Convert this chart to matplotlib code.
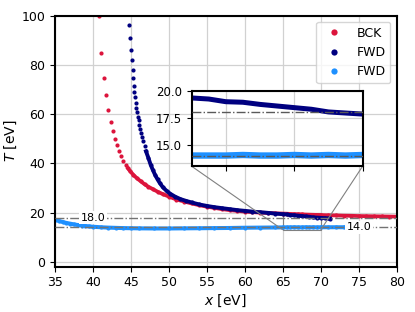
import matplotlib.pyplot as plt
from mpl_toolkits.axes_grid1.inset_locator import mark_inset

# BCK points (sparse head, then dense tail)
bck_x = [40.83, 41.09, 41.45, 41.71, 42.00, 42.33, 42.60, 42.85, 43.10, 43.40,
         43.70, 44.00, 44.30, 44.60, 44.90, 45.3, 45.8, 46.3, 46.8, 47.3,
         47.9, 48.5, 49.2, 50.0, 51.0, 52.0, 53.0, 54.0, 55.0, 56.0,
         57.0, 58.0, 59.0, 60.0, 61.0, 62.0, 63.0, 64.0, 65.0, 65.5,
         66.0, 66.5, 67.0, 67.5, 68.0, 68.5, 69.0, 69.5, 70.0, 71.0,
         72.0, 73.0, 74.0, 75.0, 76.0, 77.0, 78.0, 79.0, 80.0]
bck_T = [100.0, 84.7, 74.6, 67.6, 61.8, 56.9, 53.2, 50.0, 47.3, 44.9,
         42.8, 41.1, 39.5, 38.0, 36.8, 35.4, 33.9, 32.7, 31.5, 30.5,
         29.5, 28.5, 27.5, 26.5, 25.3, 24.5, 23.7, 23.0, 22.4, 21.9,
         21.4, 21.0, 20.7, 20.4, 20.2, 20.0, 19.85, 19.7, 19.6, 19.55,
         19.45, 19.4, 19.35, 19.3, 19.2, 19.15, 19.1, 19.05, 19.0, 18.9,
         18.85, 18.75, 18.7, 18.6, 18.55, 18.5, 18.45, 18.4, 18.35]

# FWD (dark)
fwd_x = [44.78, 44.91, 45.02, 45.13, 45.23, 45.31, 45.39, 45.45, 45.50, 45.62,
         45.72, 45.82, 45.91, 46.00, 46.10, 46.24, 46.37, 46.50, 46.65, 46.81,
         46.98, 47.3, 47.6, 47.9, 48.2, 48.5, 48.8, 49.2, 49.7, 50.2,
         50.8, 51.5, 52.2, 53.0, 54.0, 55.0, 56.0, 57.0, 58.0, 59.0,
         60.0, 61.0, 62.0, 63.0, 64.0, 65.0, 65.5, 66.0, 66.5, 67.0,
         67.5, 68.0, 68.5, 69.0, 69.5, 70.0, 70.5, 71.0, 71.2]
fwd_T = [96.2, 90.8, 86.2, 81.9, 78.1, 74.6, 71.5, 69.0, 66.8, 64.5,
         62.6, 60.7, 59.0, 57.4, 55.7, 53.9, 52.3, 50.7, 48.9, 46.9,
         44.9, 42.2, 39.4, 37.2, 35.2, 33.5, 32.0, 30.3, 28.8, 27.6,
         26.5, 25.5, 24.8, 24.1, 23.3, 22.7, 22.2, 21.8, 21.4, 21.0,
         20.7, 20.4, 20.15, 19.9, 19.6, 19.35, 19.25, 19.0, 18.95, 18.75,
         18.6, 18.45, 18.3, 18.05, 17.95, 17.85, 17.75, 17.6, 17.55]

# FWD (light)
fwd2_x = [35.0, 35.5, 36.0, 36.5, 37.0, 37.5, 38.0, 38.5, 39.0, 39.5,
          40.0, 41.0, 42.0, 43.0, 44.0, 45.0, 46.0, 48.0, 50.0, 52.0,
          54.0, 56.0, 58.0, 60.0, 62.0, 64.0, 65.0, 65.5, 66.0, 66.5,
          67.0, 67.5, 68.0, 68.5, 69.0, 69.5, 70.0, 71.0, 72.0, 73.0]
fwd2_T = [17.1, 16.6, 16.2, 15.8, 15.5, 15.2, 14.95, 14.75, 14.55, 14.4,
          14.25, 14.05, 13.9, 13.8, 13.7, 13.65, 13.6, 13.55, 13.55, 13.6,
          13.65, 13.7, 13.75, 13.85, 13.9, 13.95, 14.0, 14.0, 14.0, 14.05,
          14.0, 14.0, 14.05, 14.0, 14.05, 14.0, 14.05, 14.05, 14.05, 14.05]

ref_levels = [18.0, 14.0]
ref_label_x = [40, 75]

plt.rcParams['font.size'] = 9

fig = plt.figure(figsize=(4.15, 3.12), dpi=100)
ax = fig.add_axes([0.1325, 0.145, 0.8235, 0.805])

ax.plot(bck_x, bck_T, 'o', ms=3.0, mec='none', color='crimson', label='BCK')
ax.plot(bck_x[13:], bck_T[13:], '-', lw=2.7, color='crimson')
ax.plot(fwd_x, fwd_T, 'o', ms=3.0, mec='none', color='navy', label='FWD')
ax.plot(fwd_x[20:], fwd_T[20:], '-', lw=2.8, color='navy')
ax.plot(fwd2_x, fwd2_T, 'o', ms=3.0, mec='none', color='dodgerblue', label='FWD')
ax.plot(fwd2_x, fwd2_T, '-', lw=2.9, color='dodgerblue')

for lev, lx in zip(ref_levels, ref_label_x):
    ax.axhline(lev, color='0.45', ls='-.', lw=1.0, zorder=3)
    ax.text(lx, lev, '%.1f' % lev, fontsize=8, ha='center', va='center', zorder=4,
            bbox=dict(boxstyle='square,pad=0.15', fc='white', ec='none'))

ax.set_xlim(35, 80)
ax.set_ylim(-2, 100)
ax.set_xticks(range(35, 81, 5))
ax.set_yticks(range(0, 101, 20))
ax.grid(True, color='0.82', lw=0.9)
ax.set_axisbelow(True)
ax.set_xlabel('$x$ [eV]', fontsize=10, labelpad=2)
ax.set_ylabel('$T$ [eV]', fontsize=10, labelpad=2)
for s in ax.spines.values():
    s.set_linewidth(1.5)
ax.legend(loc='upper right', fontsize=9, markerscale=1.5)

# zoomed inset
axins = ax.inset_axes([0.4, 0.4, 0.5, 0.3])
axins.plot(fwd_x, fwd_T, '-', lw=3.6, color='navy')
axins.plot(fwd2_x, fwd2_T, '-', lw=4.6, color='dodgerblue')
for lev in ref_levels:
    axins.axhline(lev, color='0.35', ls='-.', lw=1.0, zorder=3)
axins.set_xlim(65, 70)
axins.set_ylim(13, 20)
axins.set_xticks([66, 68, 70])
axins.set_xticklabels([])
axins.set_yticks([15, 17.5, 20])
axins.tick_params(labelsize=8.5)
axins.grid(True, color='0.82', lw=0.9)
axins.set_axisbelow(True)
for s in axins.spines.values():
    s.set_linewidth(1.5)
mark_inset(ax, axins, loc1=3, loc2=4, fc='none', ec='0.5', lw=0.8)

fig.savefig('out.png', dpi=100)
